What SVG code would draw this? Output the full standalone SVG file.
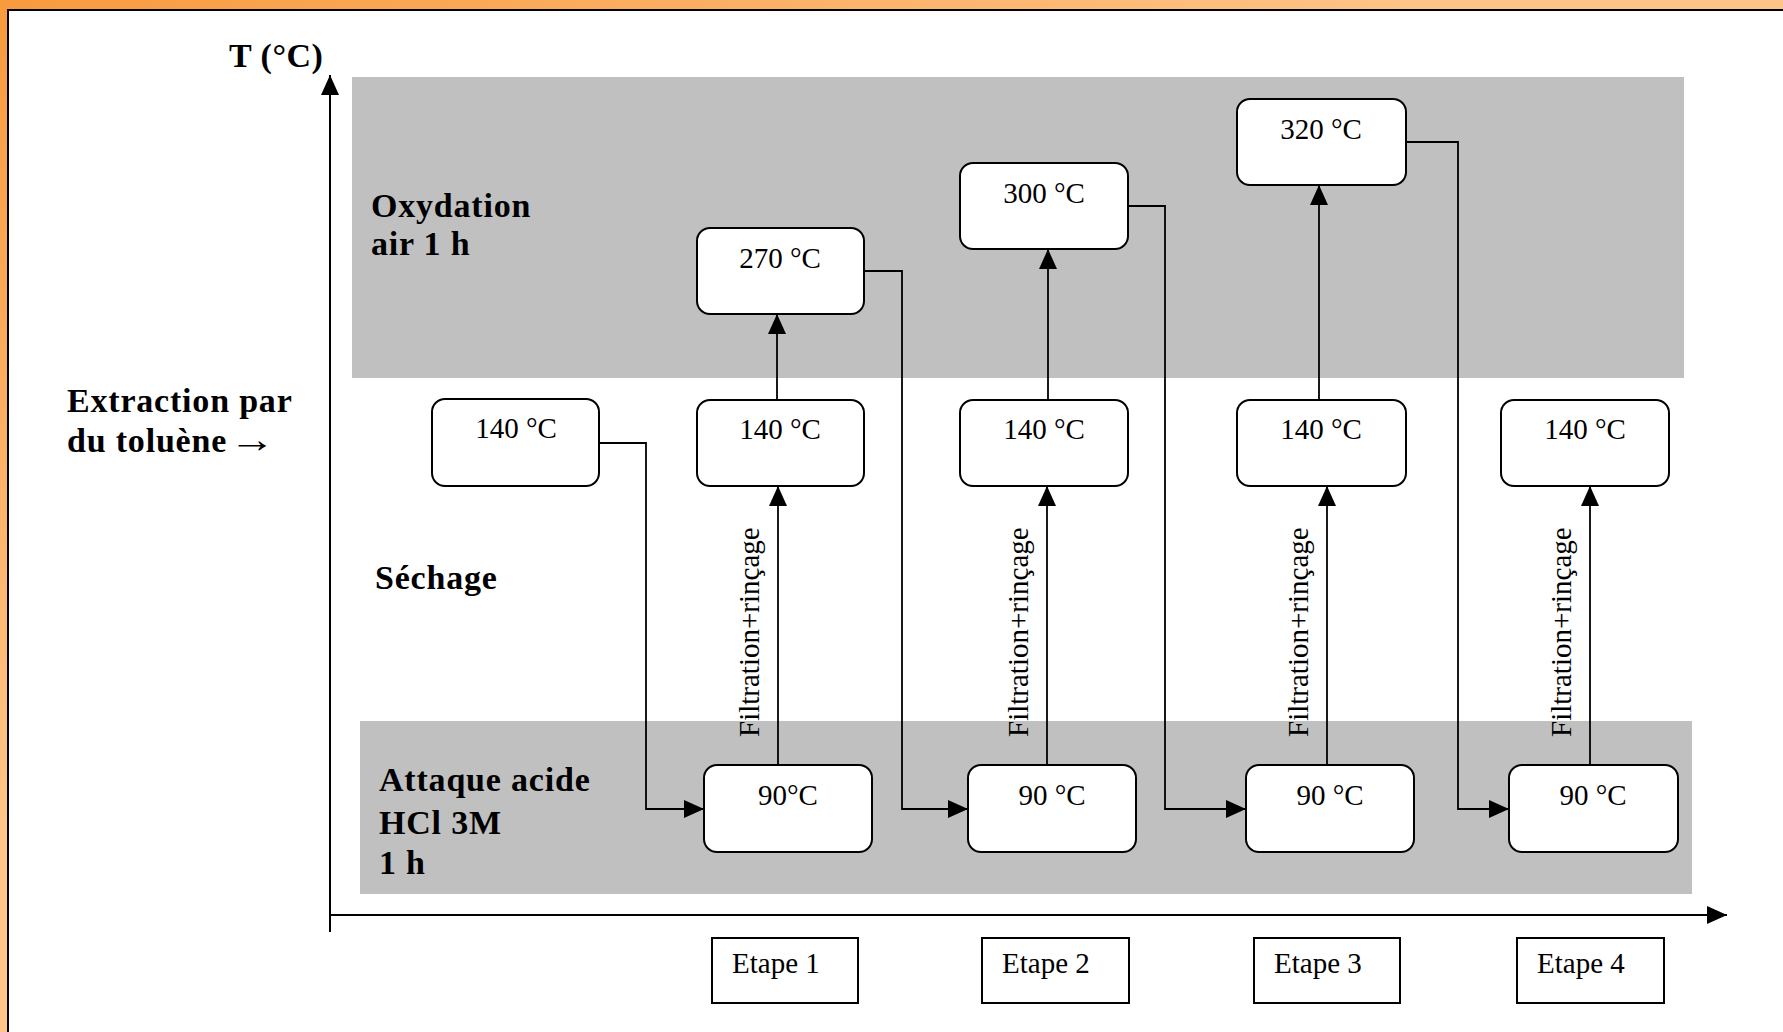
<svg xmlns="http://www.w3.org/2000/svg" width="1783" height="1032" viewBox="0 0 1783 1032">
<defs>
<linearGradient id="orange" x1="0" y1="0" x2="1" y2="1">
<stop offset="0" stop-color="#F89A3E"/>
<stop offset="0.4" stop-color="#FFC488"/>
<stop offset="1" stop-color="#FFC488"/>
</linearGradient>
<marker id="ah" viewBox="0 0 20 18" refX="20" refY="9" markerWidth="20" markerHeight="18" markerUnits="userSpaceOnUse" orient="auto">
<path d="M0,0 L20,9 L0,18 z" fill="#000"/>
</marker>
<style>
.band{fill:#C0C0C0}
.lbl{font-family:"Liberation Serif","Times New Roman",serif;font-weight:bold;font-size:34px;letter-spacing:0.8px;fill:#000}
.box{fill:#fff;stroke:#000;stroke-width:2}
.sq{fill:#fff;stroke:#000;stroke-width:2}
.t{font-family:"Liberation Serif","Times New Roman",serif;font-size:29px;fill:#000}
.c{text-anchor:middle}
.con{fill:none;stroke:#000;stroke-width:1.8}
.axis{fill:none;stroke:#000;stroke-width:2}
</style>
</defs>
<rect x="0" y="0" width="1783" height="1032" fill="url(#orange)"/>
<rect x="8" y="10" width="1800" height="1100" fill="#fff" stroke="#000" stroke-width="2"/>
<rect class="band" x="352" y="77" width="1332" height="301"/>
<rect class="band" x="360" y="721" width="1332" height="173"/>
<g id="labels">
<text class="lbl" x="229" y="67" style="letter-spacing:0.5px">T (°C)</text>
<text class="lbl" x="371" y="217">Oxydation</text>
<text class="lbl" x="371" y="255">air 1 h</text>
<text class="lbl" x="67" y="412">Extraction par</text>
<text class="lbl" x="67" y="452">du toluène</text>
<text class="lbl" transform="translate(229,452) scale(1.35,1.1)" style="letter-spacing:0">→</text>
<text class="lbl" x="375" y="589">Séchage</text>
<text class="lbl" x="379" y="791">Attaque acide</text>
<text class="lbl" x="379" y="834">HCl 3M</text>
<text class="lbl" x="379" y="874">1 h</text>
</g>
<g id="axes">
<path class="axis" d="M330,932 V75" marker-end="url(#ah)"/>
<path class="axis" d="M330,915 H1727" marker-end="url(#ah)"/>
</g>
<g id="connectors">
<path class="con" d="M599,443 H646 V809 H704" marker-end="url(#ah)"/>
<path class="con" d="M864,271 H902 V809 H968" marker-end="url(#ah)"/>
<path class="con" d="M1128,206 H1165 V809 H1246" marker-end="url(#ah)"/>
<path class="con" d="M1406,142 H1458 V809 H1509" marker-end="url(#ah)"/>
<path class="con" d="M778,765 V486" marker-end="url(#ah)"/>
<path class="con" d="M777,400 V314" marker-end="url(#ah)"/>
<path class="con" d="M1047,765 V486" marker-end="url(#ah)"/>
<path class="con" d="M1048,400 V249" marker-end="url(#ah)"/>
<path class="con" d="M1327,765 V486" marker-end="url(#ah)"/>
<path class="con" d="M1319,400 V185" marker-end="url(#ah)"/>
<path class="con" d="M1590,765 V486" marker-end="url(#ah)"/>
<text class="t" transform="translate(759,737) rotate(-90)">Filtration+rinçage</text>
<text class="t" transform="translate(1028,737) rotate(-90)">Filtration+rinçage</text>
<text class="t" transform="translate(1308,737) rotate(-90)">Filtration+rinçage</text>
<text class="t" transform="translate(1571,737) rotate(-90)">Filtration+rinçage</text>
</g>
<g id="n140_0"><rect class="box" x="432" y="399" width="167" height="87" rx="13"/><text class="t c" x="516" y="438">140 °C</text></g>
<g id="n140_1"><rect class="box" x="697" y="400" width="167" height="86" rx="13"/><text class="t c" x="780" y="439">140 °C</text></g>
<g id="n140_2"><rect class="box" x="960" y="400" width="168" height="86" rx="13"/><text class="t c" x="1044" y="439">140 °C</text></g>
<g id="n140_3"><rect class="box" x="1237" y="400" width="169" height="86" rx="13"/><text class="t c" x="1321" y="439">140 °C</text></g>
<g id="n140_4"><rect class="box" x="1501" y="400" width="168" height="86" rx="13"/><text class="t c" x="1585" y="439">140 °C</text></g>
<g id="n270"><rect class="box" x="697" y="228" width="167" height="86" rx="13"/><text class="t c" x="780" y="268">270 °C</text></g>
<g id="n300"><rect class="box" x="960" y="163" width="168" height="86" rx="13"/><text class="t c" x="1044" y="203">300 °C</text></g>
<g id="n320"><rect class="box" x="1237" y="99" width="169" height="86" rx="13"/><text class="t c" x="1321" y="139">320 °C</text></g>
<g id="n90_1"><rect class="box" x="704" y="765" width="168" height="87" rx="13"/><text class="t c" x="788" y="805">90°C</text></g>
<g id="n90_2"><rect class="box" x="968" y="765" width="168" height="87" rx="13"/><text class="t c" x="1052" y="805">90 °C</text></g>
<g id="n90_3"><rect class="box" x="1246" y="765" width="168" height="87" rx="13"/><text class="t c" x="1330" y="805">90 °C</text></g>
<g id="n90_4"><rect class="box" x="1509" y="765" width="169" height="87" rx="13"/><text class="t c" x="1593" y="805">90 °C</text></g>
<g id="etape1"><rect class="sq" x="712" y="938" width="146" height="65"/><text class="t" x="732" y="973">Etape 1</text></g>
<g id="etape2"><rect class="sq" x="982" y="938" width="147" height="65"/><text class="t" x="1002" y="973">Etape 2</text></g>
<g id="etape3"><rect class="sq" x="1254" y="938" width="146" height="65"/><text class="t" x="1274" y="973">Etape 3</text></g>
<g id="etape4"><rect class="sq" x="1517" y="938" width="147" height="65"/><text class="t" x="1537" y="973">Etape 4</text></g>
</svg>
